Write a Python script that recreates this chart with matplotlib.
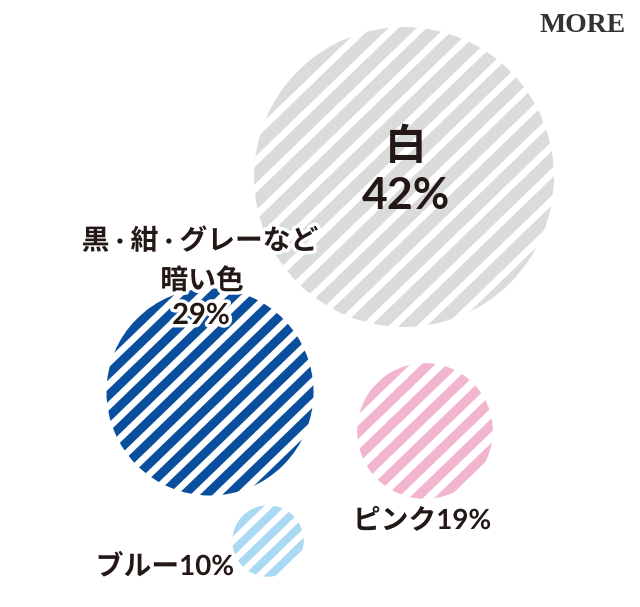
import numpy as np
import matplotlib
matplotlib.use("Agg")
import matplotlib.pyplot as plt
from matplotlib.patches import Circle, Polygon
import matplotlib.patheffects as pe

plt.rcParams['font.family'] = ['Lato', 'Noto Sans CJK JP', 'DejaVu Sans']

# ---- data ----
categories = ['白', '黒 · 紺 · グレーなど\n暗い色', 'ピンク', 'ブルー']
values = [42, 29, 19, 10]
colors = ['#dadbdb', '#0a4f9e', '#f2b5d0', '#a9d9f3']

# ---- layout (pixel space) ----
centers = [(404, 177), (210, 392), (425, 431), (268, 541)]
px_per_pct = 3.57
periods = [19.5, 15.5, 17.5, 14.5]
fill_frac = [0.64, 0.57, 0.55, 0.55]
angle = np.deg2rad(44)
text_color = '#231815'
fam = ['Lato', 'Noto Sans CJK JP', 'DejaVu Sans']

fig = plt.figure(figsize=(6.40, 6.07), dpi=100)
ax = fig.add_axes([0, 0, 1, 1])
ax.set_xlim(0, 640)
ax.set_ylim(607, 0)
ax.axis('off')

d = np.array([np.cos(angle), -np.sin(angle)])
n = np.array([np.sin(angle), np.cos(angle)])

for (cx, cy), v, col, per, frac in zip(centers, values, colors, periods, fill_frac):
    r = v * px_per_pct
    c = np.array([cx, cy])
    clip = Circle((cx, cy), r, facecolor='white', edgecolor='none', zorder=1)
    ax.add_patch(clip)
    w = per * frac
    s = -r - per
    while s < r + per:
        p0 = c + n * s
        p1 = c + n * (s + w)
        poly = Polygon([p0 - d * (r + 5), p0 + d * (r + 5),
                        p1 + d * (r + 5), p1 - d * (r + 5)],
                       closed=True, facecolor=col, edgecolor='none', zorder=2)
        ax.add_patch(poly)
        poly.set_clip_path(clip)
        s += per

halo = [pe.withStroke(linewidth=5, foreground='white')]
wt = 'bold'

# 白 42%
ax.text(406, 146, categories[0], ha='center', va='center', fontsize=30,
        color=text_color, fontweight=wt, family=fam, zorder=5)
ax.text(406, 196, f'{values[0]}%', ha='center', va='center', fontsize=32,
        color=text_color, fontweight=wt, family=fam, zorder=5)

# dark colours
line1, line2 = categories[1].split('\n')
ax.text(200, 241, line1, ha='center', va='center', fontsize=20,
        color=text_color, fontweight=wt, family=fam, zorder=5, path_effects=halo)
ax.text(202, 281, line2, ha='center', va='center', fontsize=20,
        color=text_color, fontweight=wt, family=fam, zorder=5, path_effects=halo)
ax.text(201, 316, f'{values[1]}%', ha='center', va='center', fontsize=21,
        color=text_color, fontweight=wt, family=fam, zorder=5, path_effects=halo)

# pink
ax.text(422, 521, f'{categories[2]}{values[2]}%', ha='center', va='center',
        fontsize=20, color=text_color, fontweight=wt, family=fam, zorder=5,
        path_effects=halo)

# blue
ax.text(165, 567, f'{categories[3]}{values[3]}%', ha='center', va='center',
        fontsize=20, color=text_color, fontweight=wt, family=fam, zorder=5,
        path_effects=halo)

# logo
ax.text(583, 26, 'MORE', ha='center', va='center', fontsize=20,
        family='Liberation Serif', fontweight='bold', color='#333333', zorder=5)

fig.savefig('out.png', dpi=100, facecolor='white')
